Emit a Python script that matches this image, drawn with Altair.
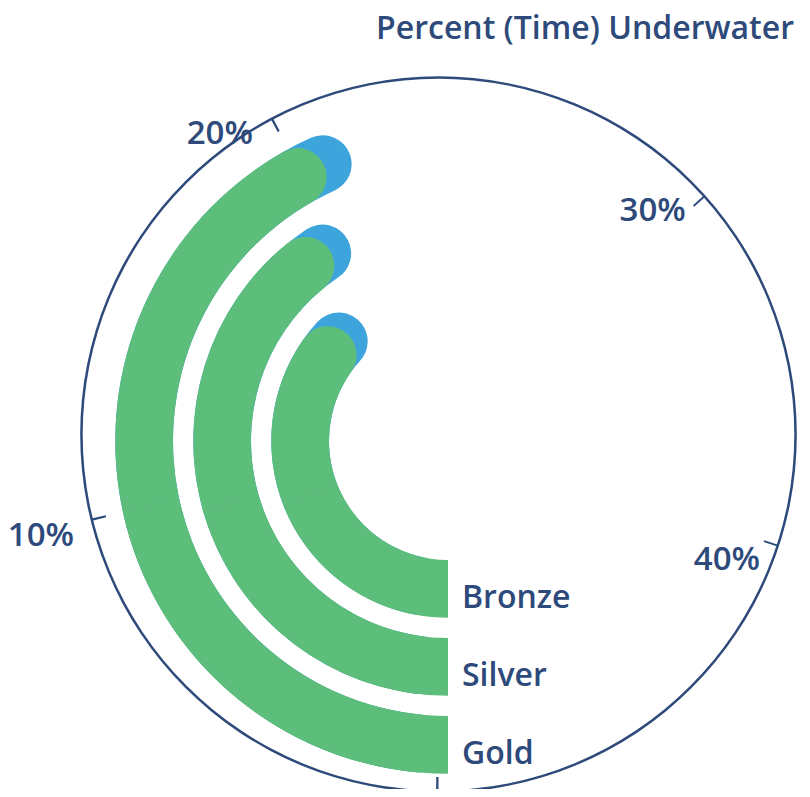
import math
import altair as alt
import pandas as pd

# ---- data ----
medals = ["Bronze", "Silver", "Gold"]
achieved = [18.0, 19.5, 20.5]      # green bars (% of time underwater)
reach = [18.9, 20.2, 21.2]         # blue bars behind
tick_values = [0, 10, 20, 30, 40]
tick_text = ["", "10%", "20%", "30%", "40%"]
title_text = "Percent (Time) Underwater"

NAVY = "#2d4a7a"
GREEN = "#5dbd7b"
BLUE = "#3ea5dc"
FONT = "Open Sans"
WEIGHT = 600

deg = math.pi / 180
# bar centre and axis-circle centre (plot coordinates)
BX, BY = 440, 433
CX, CY = 430.5, 426.5

bars = pd.DataFrame({"medal": medals, "achieved": achieved, "reach": reach, "ring": [0, 1, 2]})
ticks = pd.DataFrame({"v": tick_values, "label": tick_text})
head = pd.DataFrame({"t": [title_text]})

theta_scale = alt.Scale(type="linear", domain=[0, 30, 40],
                        range=[180 * deg, 408 * deg, 468 * deg], zero=False, nice=False)
radius_scale = alt.Scale(type="linear", domain=[0, 3], range=[119, 353], zero=False, nice=False)

base = alt.Chart(bars).transform_calculate(
    start="0",
    r0="datum.ring",
    r1="datum.ring + 0.74",
    rmid="datum.ring + 0.37",
    half="datum.achieved / 2",
)

def arc_layer(end_field, color, corner):
    return base.mark_arc(cornerRadius=corner, color=color).encode(
        x=alt.value(BX), y=alt.value(BY),
        theta=alt.Theta("start:Q", scale=theta_scale),
        theta2=alt.Theta2(end_field),
        radius=alt.Radius("r0:Q", scale=radius_scale),
        radius2=alt.Radius2("r1"),
    )

blue_bars = arc_layer("reach", BLUE, 29)
green_round = arc_layer("achieved", GREEN, 29)
green_square = arc_layer("half", GREEN, 0)

medal_labels = base.mark_text(align="left", baseline="alphabetic", dx=14, dy=19,
                              fontSize=32, font=FONT, fontWeight=WEIGHT, color=NAVY).encode(
    x=alt.value(BX), y=alt.value(BY),
    theta=alt.Theta("start:Q", scale=theta_scale),
    radius=alt.Radius("rmid:Q", scale=radius_scale),
    text="medal:N",
)

ring = alt.Chart(ticks).transform_filter("datum.v == 0").mark_arc(
    color=NAVY, theta=0, theta2=2 * math.pi, radius=358.2, radius2=355.8
).encode(x=alt.value(CX), y=alt.value(CY))

tick_marks = alt.Chart(ticks).transform_calculate(v2="datum.v + 0.05").mark_arc(color=NAVY).encode(
    x=alt.value(CX), y=alt.value(CY),
    theta=alt.Theta("v:Q", scale=theta_scale),
    theta2=alt.Theta2("v2"),
    radius=alt.value(357),
    radius2=alt.value(342.5),
)

tick_labels = alt.Chart(ticks).mark_text(align="right", baseline="middle", dx=-18, dy=15,
                                         fontSize=33, font=FONT, fontWeight=WEIGHT, color=NAVY).encode(
    x=alt.value(CX), y=alt.value(CY),
    theta=alt.Theta("v:Q", scale=theta_scale),
    radius=alt.value(357),
    text="label:N",
)

title = alt.Chart(head).mark_text(align="right", baseline="alphabetic", fontSize=32,
                                  font=FONT, fontWeight=WEIGHT, color=NAVY).encode(
    x=alt.value(786), y=alt.value(31), text="t:N"
)

chart = alt.layer(
    ring, tick_marks, blue_bars, green_round, green_square, medal_labels, tick_labels, title
).properties(
    width=794, height=781, padding=0,
    autosize=alt.AutoSizeParams(type="none"),
).configure_view(stroke="transparent")

chart.save("out.html", embed_options={"renderer": "svg", "actions": False})
